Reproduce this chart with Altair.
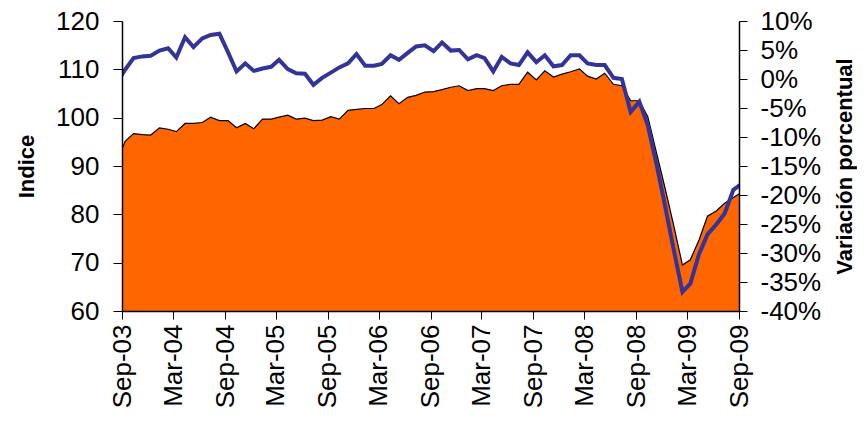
import altair as alt
import pandas as pd

# ---- data (monthly, Aug-2003 .. Sep-2009) ----
first_month = "2003-08"
indice = [
    90.4, 95.1, 96.7, 96.5, 96.4,
    97.9, 97.6, 97.1, 98.8, 98.8, 99.0, 100.1, 99.4, 99.4, 97.9, 98.8, 97.7,
    99.7, 99.7, 100.1, 100.5, 99.7, 99.9, 99.4, 99.5, 100.2, 99.7, 101.5, 101.7,
    101.9, 101.9, 102.7, 104.5, 102.9, 104.2, 104.6, 105.3, 105.4, 105.8, 106.3, 106.6,
    105.6, 106.0, 106.0, 105.6, 106.6, 106.9, 106.9, 109.4, 107.8, 109.7, 108.4, 109.0,
    109.5, 110.1, 108.6, 108.0, 109.2, 106.9, 106.6, 103.5, 103.5, 100.2, 92.7, 85.5,
    77.7, 69.5, 70.6, 74.7, 79.6, 80.7, 82.3, 83.5, 84.6,
]
variacion = [
    -0.8, 1.6, 3.6, 3.9, 4.0,
    4.9, 5.3, 3.7, 7.2, 5.5, 7.0, 7.6, 7.8, 4.6, 1.3, 2.7, 1.4,
    1.8, 2.1, 3.3, 1.7, 1.0, 0.9, -1.0, 0.2, 1.1, 2.0, 2.7, 4.3,
    2.3, 2.3, 2.6, 4.1, 3.3, 4.5, 5.6, 5.8, 4.8, 6.3, 4.9, 5.0,
    3.4, 4.1, 3.6, 1.3, 3.8, 2.7, 2.4, 4.6, 2.9, 4.1, 2.2, 2.4,
    4.1, 4.1, 2.7, 2.4, 2.4, 0.2, 0.0, -5.7, -3.9, -8.0, -14.7, -21.8,
    -29.4, -36.7, -35.3, -30.2, -26.8, -25.1, -23.2, -19.1, -18.0,
]
tick_months = ["2003-09", "2004-03", "2004-09", "2005-03", "2005-09", "2006-03",
               "2006-09", "2007-03", "2007-09", "2008-03", "2008-09", "2009-03", "2009-09"]
x_start, x_end = "2003-09", "2009-09"
left_ticks = [60, 70, 80, 90, 100, 110, 120]
right_ticks = [-40, -35, -30, -25, -20, -15, -10, -5, 0, 5, 10]

periods = pd.period_range(first_month, periods=len(indice), freq="M")
df = pd.DataFrame({
    "fecha": [f"{p.year}-{p.month:02d}-12" for p in periods],
    "indice": indice,
    "variacion": variacion,
})


def dt(ym):
    y, m = ym.split("-")
    return alt.DateTime(year=int(y), month=int(m), date=1, utc=True)


FONT = "Arial"

x_enc = alt.X(
    "fecha:T",
    scale=alt.Scale(type="utc", domain=[dt(x_start), dt(x_end)]),
    axis=alt.Axis(
        values=[dt(m) for m in tick_months],
        labelExpr="utcFormat(datum.value, '%b-%y')",
        labelAngle=270,
        labelFontSize=26,
        labelColor="black",
        labelPadding=5,
        labelFlush=False,
        labelOverlap=False,
        tickSize=8,
        tickColor="black",
        domainColor="black",
        domainWidth=1.5,
        grid=False,
        title=None,
        zindex=1,
    ),
)

area = alt.Chart(df).mark_area(
    color="#FF6600", clip=True, opacity=1,
    line={"color": "black", "strokeWidth": 1.2},
).encode(
    x=x_enc,
    y=alt.Y(
        "indice:Q",
        scale=alt.Scale(domain=[60, 120], zero=False, nice=False),
        axis=alt.Axis(
            orient="left",
            values=left_ticks,
            title="Indice",
            titleFontSize=22,
            titleFontWeight="bold",
            titleColor="black",
            titlePadding=17,
            labelFontSize=26,
            labelColor="black",
            labelPadding=14,
            tickSize=9,
            tickColor="black",
            domainColor="black",
            domainWidth=1.5,
            grid=False,
            zindex=1,
        ),
    ),
)

line = alt.Chart(df).mark_line(color="#333399", strokeWidth=4, clip=True).encode(
    x=x_enc,
    y=alt.Y(
        "variacion:Q",
        scale=alt.Scale(domain=[-40, 10], zero=False, nice=False),
        axis=alt.Axis(
            orient="right",
            values=right_ticks,
            labelExpr="datum.value + '%'",
            title="Variación porcentual",
            titleAngle=270,
            titleBaseline="top",
            titleFontSize=22,
            titleFontWeight="bold",
            titleColor="black",
            titlePadding=14,
            labelFontSize=26,
            labelColor="black",
            labelPadding=13,
            tickSize=8,
            tickColor="black",
            domainColor="black",
            domainWidth=1.5,
            grid=False,
            zindex=1,
        ),
    ),
)

chart = (
    alt.layer(area, line)
    .resolve_scale(y="independent")
    .properties(
        width=617,
        height=290,
        autosize=alt.AutoSizeParams(type="none"),
        padding={"left": 114, "top": 13, "right": 118, "bottom": 100},
        background="white",
    )
    .configure(font=FONT)
    .configure_view(stroke=None)
)

chart.save("out.html", embed_options={"renderer": "svg", "actions": False})
